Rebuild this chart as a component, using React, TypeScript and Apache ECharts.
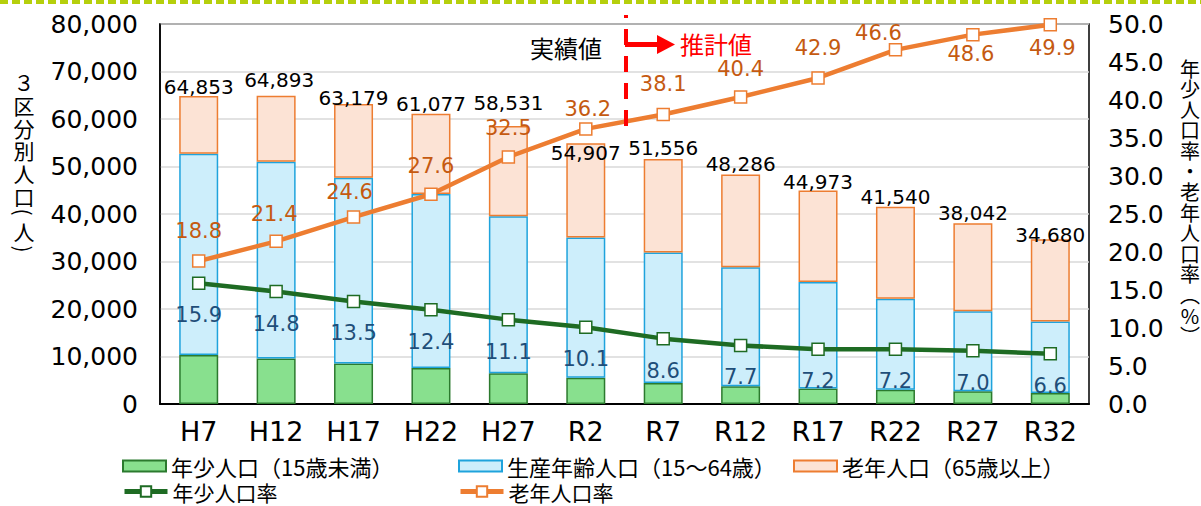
import React, { useEffect, useRef } from 'react';
import * as echarts from 'echarts';

const categories = ['H7', 'H12', 'H17', 'H22', 'H27', 'R2', 'R7', 'R12', 'R17', 'R22', 'R27', 'R32'];
const youngPop = [10300, 9600, 8530, 7570, 6500, 5550, 4430, 3720, 3240, 2990, 2660, 2290];
const workingPop = [42360, 41410, 39110, 36650, 33010, 29480, 27480, 25060, 22440, 19190, 16890, 15090];
const elderlyPop = [12190, 13880, 15540, 16860, 19020, 19880, 19650, 19510, 19290, 19360, 18490, 17300];
const totalPop = [64853, 64893, 63179, 61077, 58531, 54907, 51556, 48286, 44973, 41540, 38042, 34680];
const youngRate = [15.9, 14.8, 13.5, 12.4, 11.1, 10.1, 8.6, 7.7, 7.2, 7.2, 7.0, 6.6];
const elderlyRate = [18.8, 21.4, 24.6, 27.6, 32.5, 36.2, 38.1, 40.4, 42.9, 46.6, 48.6, 49.9];
const leftTicks = { min: 0, max: 80000, interval: 10000 };
const rightTicks = { min: 0, max: 50, interval: 5 };

const NAMES = {
  young: '年少人口（15歳未満）',
  working: '生産年齢人口（15～64歳）',
  elderly: '老年人口（65歳以上）',
  youngRate: '年少人口率',
  elderlyRate: '老年人口率',
};

const NUM_FONT = 'DejaVu Sans, Noto Sans CJK JP, sans-serif';
const CJK_FONT = 'Noto Sans CJK JP, sans-serif';

function buildOption() {
  // label nudges (layout only)
  const totalNudge: [number, number][] = [
    [0, 1], [3, -6], [0, 4], [0, 0], [0, -13], [0, 20], [0, -1], [0, -1], [0, 2], [0, 0], [0, 0], [0, 6],
  ];
  const elderlyNudge: [number, number][] = [
    [0, -30], [-2, -27], [-4, -25], [0, -28], [0, -29], [2, -20], [0, -30], [0, -28], [0, -30], [-17, -17], [-2, 19], [2, 23],
  ];

  const txt = (text: string, x: number, y: number, extra: any = {}) => ({
    type: 'text',
    x,
    y,
    ...extra.el,
    style: {
      text,
      font: `${extra.fs || 21}px ${CJK_FONT}`,
      fill: '#000',
      textAlign: 'center',
      textVerticalAlign: extra.va || 'middle',
      verticalAlign: extra.va || 'middle',
      lineHeight: extra.lh,
    },
  });
  const rot = { el: { rotation: -Math.PI / 2 } };

  const axisNames = [
    txt('３\n区\n分\n別\n人\n口', 24, 70.6, { va: 'top', lh: 22.8 }),
    txt('(', 24, 212, rot),
    txt('人', 24, 231),
    txt(')', 24, 249, rot),
    txt('年\n少\n人\n口\n率\n・\n老\n年\n人\n口\n率\n︵\n%\n︶', 1190, 57.7, { va: 'top', lh: 20.6, fs: 20 }),
  ];

  const legendBase = {
    orient: 'horizontal',
    padding: 0,
    itemWidth: 43,
    itemGap: 10,
    textStyle: { fontSize: 22, lineHeight: 22, fontFamily: CJK_FONT, color: '#000' },
  };
  const legendRow2Text = { fontSize: 21, lineHeight: 21, fontFamily: CJK_FONT, color: '#000' };

  return {
    animation: false,
    textStyle: { fontFamily: NUM_FONT },
    grid: {
      left: 160, right: 112, top: 24, bottom: 102,
      show: true, borderColor: '#000', borderWidth: 1.5, backgroundColor: 'transparent',
    },
    legend: [
      { ...legendBase, data: [{ name: NAMES.young, icon: 'rect' }], left: 122, top: 455, itemHeight: 11 },
      { ...legendBase, data: [{ name: NAMES.working, icon: 'rect' }], left: 458, top: 455, itemHeight: 11 },
      { ...legendBase, data: [{ name: NAMES.elderly, icon: 'rect' }], left: 793, top: 455, itemHeight: 11 },
      { ...legendBase, textStyle: legendRow2Text, data: [NAMES.youngRate], left: 122, top: 481, itemHeight: 13, lineStyle: { width: 5 } },
      { ...legendBase, textStyle: legendRow2Text, data: [NAMES.elderlyRate], left: 458, top: 481, itemHeight: 13, lineStyle: { width: 5 } },
    ],
    xAxis: {
      type: 'category',
      data: categories,
      axisLine: { lineStyle: { color: '#000', width: 2 } },
      axisTick: { show: false },
      axisLabel: { fontSize: 27, color: '#000', margin: 14, fontFamily: NUM_FONT },
    },
    yAxis: [
      {
        type: 'value',
        ...leftTicks,
        axisLine: { show: true, lineStyle: { color: '#000', width: 1.5 } },
        axisTick: { show: false },
        splitLine: { lineStyle: { color: '#d9d9d9', width: 1.5 } },
        axisLabel: {
          fontSize: 25, color: '#000', margin: 22, fontFamily: NUM_FONT,
          formatter: (v: number) => v.toLocaleString('en-US'),
        },
      },
      {
        type: 'value',
        ...rightTicks,
        axisLine: { show: false },
        axisTick: { show: false },
        splitLine: { show: false },
        axisLabel: {
          fontSize: 25, color: '#000', margin: 19, fontFamily: NUM_FONT,
          formatter: (v: number) => v.toFixed(1),
        },
      },
    ],
    series: [
      {
        name: NAMES.young, type: 'bar', stack: 'pop', barWidth: 39, data: youngPop,
        itemStyle: { color: '#88e08e', borderColor: '#2b7a2e', borderWidth: 1.5 },
      },
      {
        name: NAMES.working, type: 'bar', stack: 'pop', barWidth: 39, data: workingPop,
        itemStyle: { color: '#cdeefb', borderColor: '#1fa3dc', borderWidth: 1.5 },
      },
      {
        name: NAMES.elderly, type: 'bar', stack: 'pop', barWidth: 39,
        data: elderlyPop.map((v, i) => ({ value: v, label: { offset: totalNudge[i] } })),
        itemStyle: { color: '#fce3d5', borderColor: '#ed7d31', borderWidth: 1.5 },
        label: {
          show: true, position: 'top', distance: 0, fontSize: 20, color: '#000', fontFamily: NUM_FONT,
          formatter: (p: any) => totalPop[p.dataIndex].toLocaleString('en-US'),
        },
      },
      {
        name: NAMES.youngRate, type: 'line', yAxisIndex: 1, data: youngRate, z: 5,
        symbol: 'rect', symbolSize: 12,
        lineStyle: { color: '#1e6b23', width: 4.5 },
        itemStyle: { color: '#ffffff', borderColor: '#1e6b23', borderWidth: 1.5 },
        label: {
          show: true, position: 'inside', offset: [0, 32], fontSize: 21, color: '#1f4e79', fontFamily: NUM_FONT,
          formatter: (p: any) => Number(p.value).toFixed(1),
        },
      },
      {
        name: NAMES.elderlyRate, type: 'line', yAxisIndex: 1, z: 5,
        data: elderlyRate.map((v, i) => ({ value: v, label: { offset: elderlyNudge[i] } })),
        symbol: 'rect', symbolSize: 12,
        lineStyle: { color: '#ed7d31', width: 4.5 },
        itemStyle: { color: '#ffffff', borderColor: '#ed7d31', borderWidth: 1.5 },
        label: {
          show: true, position: 'inside', fontSize: 21, color: '#c55a11', fontFamily: NUM_FONT,
          formatter: (p: any) => Number(p.value).toFixed(1),
        },
      },
    ],
    graphic: [
      {
        type: 'line', z: 10,
        shape: { x1: 0, y1: 2, x2: 1201, y2: 2 },
        style: { stroke: '#b5cf0c', lineWidth: 4, lineDash: [8, 4] },
      },
      {
        type: 'line', z: 10,
        shape: { x1: 626, y1: 15, x2: 626, y2: 130 },
        style: { stroke: '#ff0000', lineWidth: 4, lineDash: [16, 11], lineDashOffset: 13 },
      },
      {
        type: 'line', z: 10,
        shape: { x1: 625, y1: 44.5, x2: 660, y2: 44.5 },
        style: { stroke: '#ff0000', lineWidth: 5 },
      },
      {
        type: 'polygon', z: 10,
        shape: { points: [[657, 35], [675, 44.5], [657, 54]] },
        style: { fill: '#ff0000' },
      },
      {
        type: 'text', z: 10, x: 566, y: 47,
        style: { text: '実績値', font: `24px ${CJK_FONT}`, fill: '#000', textAlign: 'center', textVerticalAlign: 'middle', verticalAlign: 'middle' },
      },
      {
        type: 'text', z: 10, x: 716, y: 43.5,
        style: { text: '推計値', font: `24px ${CJK_FONT}`, fill: '#ff0000', textAlign: 'center', textVerticalAlign: 'middle', verticalAlign: 'middle' },
      },
      ...axisNames,
    ],
  };
}

export default function App() {
  const ref = useRef<HTMLDivElement>(null);
  useEffect(() => {
    document.body.style.margin = '0';
    const chart = echarts.init(ref.current!, null, { renderer: 'svg' });
    chart.setOption(buildOption() as any);
    return () => chart.dispose();
  }, []);
  return <div ref={ref} style={{ width: 1201, height: 506, position: 'absolute', left: 0, top: 0, background: '#fff' }} />;
}
